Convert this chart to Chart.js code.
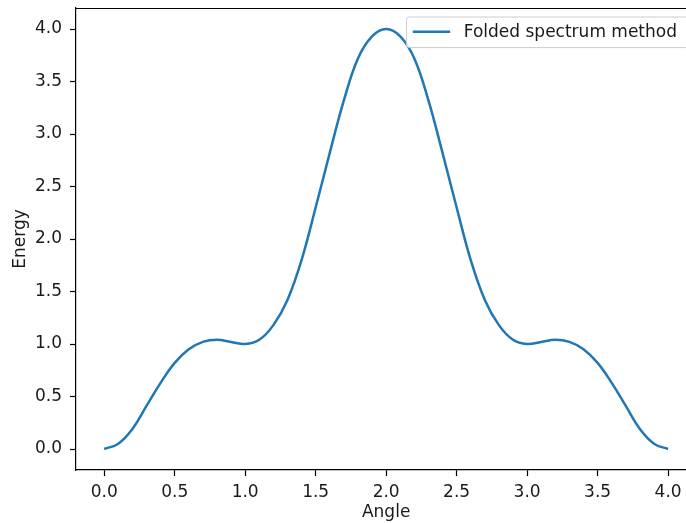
<!DOCTYPE html>
<html>
<head>
<meta charset="utf-8">
<script src="https://cdn.jsdelivr.net/npm/chart.js@4/dist/chart.umd.min.js"></script>
<style>
  html, body { margin: 0; padding: 0; background: #fff; overflow: hidden; }
  canvas { display: block; }
</style>
</head>
<body>
<canvas id="energyChart" width="686" height="523"></canvas>
<script>
// 각도별 에너지 (folded spectrum)
const angles = [
  0.0, 0.1, 0.2, 0.3, 0.4, 0.5, 0.6, 0.7, 0.8, 0.9,
  1.0, 1.1, 1.2, 1.3, 1.4, 1.5, 1.6, 1.7, 1.8, 1.9,
  2.0, 2.1, 2.2, 2.3, 2.4, 2.5, 2.6, 2.7, 2.8, 2.9,
  3.0, 3.1, 3.2, 3.3, 3.4, 3.5, 3.6, 3.7, 3.8, 3.9, 4.0
];
const energy = [
  0.00, 0.05, 0.19, 0.41, 0.63, 0.82, 0.95, 1.02, 1.04, 1.02,
  1.00, 1.04, 1.18, 1.42, 1.80, 2.30, 2.82, 3.32, 3.72, 3.93,
  4.00, 3.93, 3.72, 3.32, 2.82, 2.30, 1.80, 1.42, 1.18, 1.04,
  1.00, 1.02, 1.04, 1.02, 0.95, 0.82, 0.63, 0.41, 0.19, 0.05, 0.00
];
const seriesLabel = 'Folded spectrum method';
const xTitle = 'Angle';
const yTitle = 'Energy';
const tickStep = 0.5;
// x축은 4.2까지지만 화면에는 4.13 근처까지만 보임
const xMin = -0.2, xEnd = 4.2, xVisible = 4.127;
const yMin = -0.2, yMax = 4.2;

const FONT = 'DejaVu Sans';
const FS = 17;
const TEXT = '#1a1a1a';
const LINE = '#1f77b4';

// 위쪽 축선
const framePlugin = {
  id: 'frame',
  afterDraw(chart) {
    const { ctx, chartArea: a } = chart;
    ctx.save();
    ctx.strokeStyle = '#000';
    ctx.lineWidth = 1.2;
    ctx.beginPath();
    ctx.moveTo(a.left, a.top + 0.5);
    ctx.lineTo(a.right, a.top + 0.5);
    ctx.stroke();
    ctx.restore();
  }
};

// x축 제목: 축 전체(-0.2 ~ 4.2) 가운데에 배치
const xTitlePlugin = {
  id: 'xTitle',
  afterDraw(chart) {
    const { ctx } = chart;
    const sx = chart.scales.x;
    const cx = (sx.getPixelForValue(xMin) + sx.getPixelForValue(xEnd)) / 2;
    ctx.save();
    ctx.font = FS + 'px "' + FONT + '"';
    ctx.fillStyle = TEXT;
    ctx.textAlign = 'center';
    ctx.textBaseline = 'middle';
    ctx.fillText(xTitle, cx, chart.height - FS * 0.6);
    ctx.restore();
  }
};

// 축 오른쪽 위 범례 (축 끝 기준)
const insideLegend = {
  id: 'insideLegend',
  afterDraw(chart) {
    const { ctx, chartArea: a } = chart;
    const ds = chart.data.datasets[0];
    ctx.save();
    ctx.font = FS + 'px "' + FONT + '"';
    const tw = ctx.measureText(ds.label).width;
    const pad = 0.4 * FS, handle = 2.2 * FS, gap = 0.8 * FS;
    const h = 1.8 * FS;
    const right = chart.scales.x.getPixelForValue(xEnd) - 0.5 * FS;
    const left = right - (pad * 2 + handle + gap + tw + 4);
    const top = a.top + 0.5 * FS;
    ctx.fillStyle = 'rgba(255,255,255,0.8)';
    ctx.strokeStyle = '#cccccc';
    ctx.lineWidth = 1;
    ctx.beginPath();
    ctx.roundRect(left + 0.5, top + 0.5, right - left, h, 3);
    ctx.fill();
    ctx.stroke();
    const cy = top + h / 2;
    ctx.strokeStyle = ds.borderColor;
    ctx.lineWidth = ds.borderWidth;
    ctx.beginPath();
    ctx.moveTo(left + pad, cy);
    ctx.lineTo(left + pad + handle, cy);
    ctx.stroke();
    ctx.fillStyle = TEXT;
    ctx.textBaseline = 'middle';
    ctx.fillText(ds.label, left + pad + handle + gap, cy + 1);
    ctx.restore();
  }
};

// 축 크기 고정, 라벨 여백 제거
function fixX(s) {
  s.height = 53;
  s.paddingLeft = 0;
  s.paddingRight = 0;
}
function fixY(s) {
  s.width = 76;
  s.paddingTop = 0;
  s.paddingBottom = 0;
}

new Chart(document.getElementById('energyChart'), {
  type: 'line',
  data: {
    datasets: [{
      label: seriesLabel,
      data: angles.map((x, i) => ({ x: x, y: energy[i] })),
      borderColor: LINE,
      borderWidth: 2.5,
      pointRadius: 0,
      fill: false,
      tension: 0.4
    }]
  },
  options: {
    responsive: false,
    animation: false,
    layout: { padding: { left: 0, top: 8, right: 0, bottom: 0 } },
    plugins: {
      legend: { display: false },
      tooltip: { enabled: false }
    },
    scales: {
      x: {
        type: 'linear',
        min: xMin,
        max: xVisible,
        afterFit: fixX,
        border: { display: true, color: '#000', width: 1.2 },
        grid: { drawOnChartArea: false, drawTicks: true, tickLength: 6, tickColor: '#000', tickWidth: 1.2 },
        ticks: {
          stepSize: tickStep,
          includeBounds: false,
          maxRotation: 0,
          padding: 6,
          color: TEXT,
          font: { family: FONT, size: FS },
          callback: (v) => v.toFixed(1)
        },
        title: { display: false }
      },
      y: {
        min: yMin,
        max: yMax,
        afterFit: fixY,
        border: { display: true, color: '#000', width: 1.2 },
        grid: { drawOnChartArea: false, drawTicks: true, tickLength: 6, tickColor: '#000', tickWidth: 1.2 },
        ticks: {
          stepSize: tickStep,
          includeBounds: false,
          padding: 8,
          color: TEXT,
          font: { family: FONT, size: FS },
          callback: (v) => v.toFixed(1)
        },
        title: {
          display: true,
          text: yTitle,
          color: TEXT,
          font: { family: FONT, size: FS },
          padding: { top: 10, bottom: 0 }
        }
      }
    }
  },
  plugins: [framePlugin, xTitlePlugin, insideLegend]
});
</script>
</body>
</html>
